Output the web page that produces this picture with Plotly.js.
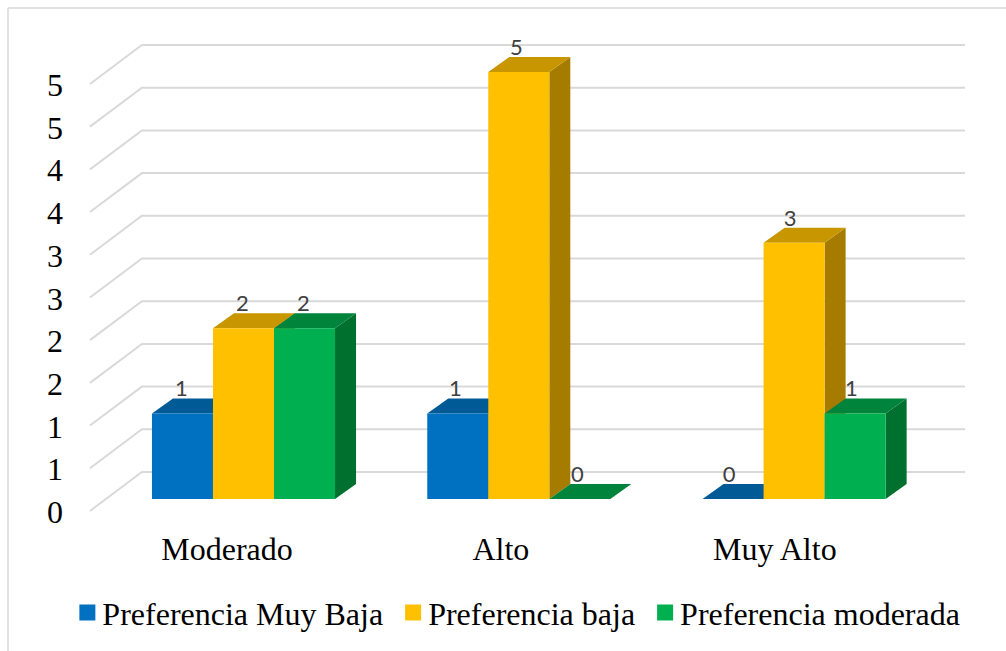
<!DOCTYPE html>
<html><head><meta charset="utf-8">
<script src="https://cdn.plot.ly/plotly-3.0.1.min.js"></script>
<style>html,body{margin:0;padding:0;background:#fff}#c{width:1006px;height:651px}</style>
</head><body><div id="c"></div>
<script>
const categories = ["Moderado", "Alto", "Muy Alto"];
const seriesNames = ["Preferencia Muy Baja", "Preferencia baja", "Preferencia moderada"];
const muyBaja = [1, 1, 0];
const baja = [2, 5, 3];
const moderada = [2, 0, 1];
const gridValues = [0, 0.5, 1, 1.5, 2, 2.5, 3, 3.5, 4, 4.5, 5];
const yTickText = ["0", "1", "1", "2", "2", "3", "3", "4", "4", "5", "5"];
const frontColors = ["#0070C0", "#FFC000", "#00B050"];
const topColors = ["#005A96", "#C89700", "#00843C"];
const sideColors = ["#004F85", "#A67C00", "#00702F"];

const seriesValues = [muyBaja, baja, moderada];
const xRange = [-0.5648, 2.7479], yRange = [-0.3162, 5.7494];
const bargap = 0.335, barW = (1 - bargap) / 3;
const depthX = 0.0763, depthY = 0.176;
const wallFrontX = -0.5576, wallBackX = -0.369, wallEndX = 2.621;
const wallFrontDy = -0.14, wallBackDy = 0.316;

const traces = [];
seriesValues.forEach((vals, s) => {
  const sx = [], sy = [], tx = [], ty = [];
  vals.forEach((v, i) => {
    const l = i + (s - 1.5) * barW, r = l + barW;
    sx.push(r, r + depthX, r + depthX, r, r, null);
    sy.push(0, depthY, v + depthY, v, 0, null);
    tx.push(l, l + depthX, r + depthX, r, l, null);
    ty.push(v, v + depthY, v + depthY, v, v, null);
  });
  traces.push({type:"scatter", mode:"lines", x:sx, y:sy, fill:"toself", fillcolor:sideColors[s],
    line:{width:0}, hoverinfo:"skip", showlegend:false});
  traces.push({type:"scatter", mode:"lines", x:tx, y:ty, fill:"toself", fillcolor:topColors[s],
    line:{width:0}, hoverinfo:"skip", showlegend:false});
});
seriesValues.forEach((vals, s) => {
  traces.push({type:"bar", x:[0,1,2], y:vals, name:seriesNames[s], xaxis:"x2", yaxis:"y2",
    marker:{color:frontColors[s], line:{width:0}}, showlegend:false, hovertemplate:"%{y}<extra></extra>"});
});
seriesValues.forEach((vals, s) => {
  traces.push({type:"scatter", mode:"text", xaxis:"x2", yaxis:"y2",
    x:vals.map((v, i) => i + (s - 1) * barW - 0.004 - 0.005 * i), y:vals.map(v => v + 0.265),
    text:vals.map(String), textposition:"middle center",
    textfont:{family:"Lato, 'Open Sans', sans-serif", size:22, color:"#404040"},
    hoverinfo:"skip", showlegend:false});
});
seriesValues.forEach((vals, s) => {
  traces.push({type:"scatter", mode:"markers", x:[null], y:[null], name:seriesNames[s],
    marker:{symbol:"square", size:16, color:frontColors[s]}, hoverinfo:"skip", showlegend:true});
});

const gridShapes = gridValues.map(g => ({
  type:"path", xref:"x", yref:"y", layer:"below",
  path:`M ${wallFrontX} ${g + wallFrontDy} L ${wallBackX} ${g + wallBackDy} L ${wallEndX} ${g + wallBackDy}`,
  line:{color:"#D9D9D9", width:2}
}));
const borderShapes = [
  {type:"line", xref:"paper", yref:"paper", x0:-0.0877, x1:1.01, y0:1, y1:1, line:{color:"#D9D9D9", width:1.5}},
  {type:"line", xref:"paper", yref:"paper", x0:-0.0877, x1:-0.0877, y0:1, y1:-0.2413, line:{color:"#D9D9D9", width:1.5}}
];

const serif = "'Liberation Serif', 'Times New Roman', serif";
const layout = {
  width:1006, height:651, autosize:false,
  margin:{l:88, r:6, t:8, b:125},
  paper_bgcolor:"#fff", plot_bgcolor:"rgba(0,0,0,0)",
  barmode:"group", bargap:bargap, bargroupgap:0,
  font:{family:serif, color:"#000"},
  xaxis:{range:xRange, showgrid:false, zeroline:false, showline:false, ticks:"",
    tickmode:"array", tickvals:[-0.06, 0.935, 1.93], ticktext:categories,
    tickfont:{family:serif, size:32, color:"#000"}, ticklabelstandoff:1, fixedrange:true},
  yaxis:{range:yRange, showgrid:false, zeroline:false, showline:false, ticks:"",
    tickmode:"array", tickvals:gridValues.map(g => g + wallFrontDy - 0.01), ticktext:yTickText,
    tickfont:{family:serif, size:32, color:"#000"}, ticklabelstandoff:24, fixedrange:true},
  xaxis2:{range:xRange, overlaying:"x", visible:false, fixedrange:true},
  yaxis2:{range:yRange, overlaying:"y", visible:false, fixedrange:true},
  legend:{orientation:"h", xref:"container", yref:"container", x:0.062, xanchor:"left", y:0.059, yanchor:"middle",
    font:{family:serif, size:32, color:"#000"}, bgcolor:"rgba(0,0,0,0)", traceorder:"normal", itemclick:false, itemdoubleclick:false},
  shapes:gridShapes.concat(borderShapes),
  showlegend:true
};
Plotly.newPlot("c", traces, layout, {displayModeBar:false, responsive:false}).then(() => {
  document.querySelectorAll("#c .legendpoints").forEach(g => g.setAttribute("transform", "translate(5,0)"));
});
</script></body></html>
